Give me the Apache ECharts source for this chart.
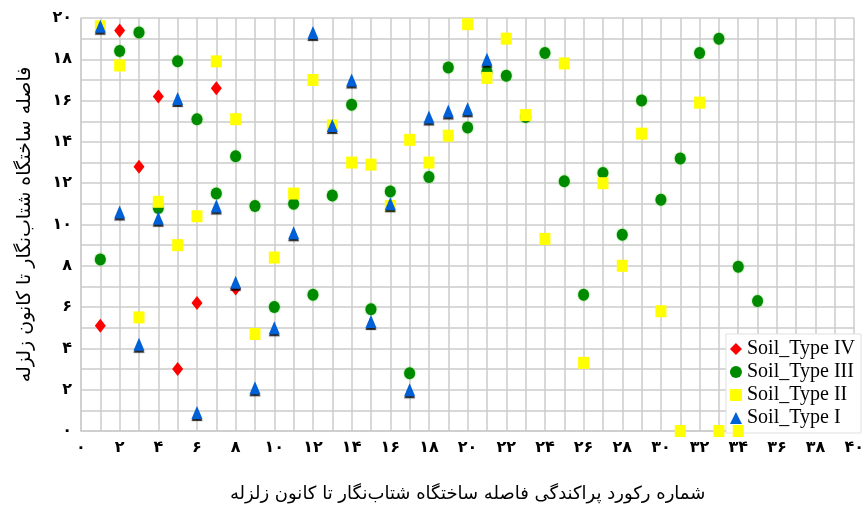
<!DOCTYPE html>
<html>
<head>
<meta charset="utf-8">
<script src="https://cdn.jsdelivr.net/npm/echarts@6/dist/echarts.min.js"></script>
<style>
html,body{margin:0;padding:0;background:#fff;}
#c{width:867px;height:508px;}
</style>
</head>
<body>
<div id="c"></div>
<script>
// ---- data ----
var seriesNames = ['Soil_Type IV', 'Soil_Type III', 'Soil_Type II', 'Soil_Type I'];
var typeIV = [[1,5.1],[2,19.4],[3,12.8],[4,16.2],[5,3.0],[6,6.2],[7,16.6],[8,6.9]];
var typeIII = [[1,8.3],[2,18.4],[3,19.3],[4,10.8],[5,17.9],[6,15.1],[7,11.5],[8,13.3],[9,10.9],[10,6.0],
  [11,11.0],[12,6.6],[13,11.4],[14,15.8],[15,5.9],[16,11.6],[17,2.8],[18,12.3],[19,17.6],[20,14.7],
  [21,17.4],[22,17.2],[23,15.2],[24,18.3],[25,12.1],[26,6.6],[27,12.5],[28,9.5],[29,16.0],[30,11.2],
  [31,13.2],[32,18.3],[33,19.0],[34,7.95],[35,6.3]];
var typeII = [[1,19.6],[2,17.7],[3,5.5],[4,11.1],[5,9.0],[6,10.4],[7,17.9],[8,15.1],[9,4.7],[10,8.4],
  [11,11.5],[12,17.0],[13,14.8],[14,13.0],[15,12.9],[16,10.9],[17,14.1],[18,13.0],[19,14.3],[20,19.7],
  [21,17.1],[22,19.0],[23,15.3],[24,9.3],[25,17.8],[26,3.3],[27,12.0],[28,8.0],[29,14.4],[30,5.8],
  [31,0],[32,15.9],[33,0],[34,0]];
var typeI = [[1,19.6],[2,10.6],[3,4.2],[4,10.3],[5,16.1],[6,0.9],[7,10.9],[8,7.2],[9,2.1],[10,5.0],
  [11,9.6],[12,19.3],[13,14.8],[14,17.0],[15,5.3],[16,11.0],[17,2.0],[18,15.2],[19,15.5],[20,15.6],[21,18.0]];
var xTitle = 'شماره رکورد پراکندگی فاصله ساختگاه شتاب‌نگار تا کانون زلزله';
var yTitle = 'فاصله ساختگاه شتاب‌نگار تا کانون زلزله';

function fa(v){
  var d = '۰۱۲۳۴۵۶۷۸۹';
  return String(v).replace(/[0-9]/g, function(c){ return d[+c]; });
}

var gridColor = '#cccccc';
var labelFont = {color:'#000', fontSize:16, fontWeight:'bold', fontFamily:'DejaVu Sans'};

var chart = echarts.init(document.getElementById('c'), null, {renderer:'canvas'});
chart.setOption({
  animation:false,
  backgroundColor:'#fff',
  grid:{left:81, right:7, top:18, bottom:77, containLabel:false},
  xAxis:{
    type:'value', min:0, max:40, interval:2,
    axisLine:{show:true, lineStyle:{color:gridColor, width:1.5}},
    axisTick:{show:false},
    axisLabel:Object.assign({formatter:fa, margin:9}, labelFont),
    splitLine:{show:true, lineStyle:{color:gridColor, width:1.5}},
    minorTick:{show:false, splitNumber:2},
    minorSplitLine:{show:true, lineStyle:{color:gridColor, width:1.5}},
    name:xTitle, nameLocation:'middle', nameGap:54,
    nameTextStyle:{color:'#000', fontSize:18, fontFamily:'DejaVu Sans'}
  },
  yAxis:{
    type:'value', min:0, max:20, interval:2,
    axisLine:{show:true, lineStyle:{color:gridColor, width:1.5}},
    axisTick:{show:false},
    axisLabel:Object.assign({formatter:fa, margin:9}, labelFont),
    splitLine:{show:true, lineStyle:{color:gridColor, width:1.5}},
    minorTick:{show:false, splitNumber:2},
    minorSplitLine:{show:true, lineStyle:{color:gridColor, width:1.5}},
    name:yTitle, nameLocation:'middle', nameGap:46, nameRotate:90,
    nameTextStyle:{color:'#000', fontSize:19, fontFamily:'DejaVu Sans'}
  },
  legend:{
    orient:'vertical', right:6, bottom:75, z:1,
    backgroundColor:'#fff', borderColor:'#e0e0e0', borderWidth:1,
    padding:[5,6,5,4], itemGap:3, itemWidth:12, itemHeight:12,
    textStyle:{color:'#000', fontSize:20, fontFamily:'Liberation Serif'},
    data:[
      {name:seriesNames[0], icon:'diamond'},
      {name:seriesNames[1], icon:'circle'},
      {name:seriesNames[2], icon:'rect'},
      {name:seriesNames[3], icon:'triangle'}
    ]
  },
  series:[
    {name:seriesNames[0], type:'scatter', z:3, data:typeIV, symbol:'diamond', symbolSize:[11,14],
      itemStyle:{color:'#ff0000', opacity:1}},
    {name:seriesNames[1], type:'scatter', z:3, data:typeIII, symbol:'circle', symbolSize:[11,12],
      itemStyle:{color:'#008a00', opacity:1, shadowColor:'rgba(80,200,40,0.8)', shadowBlur:2}},
    {name:seriesNames[2], type:'scatter', z:3, data:typeII, symbol:'rect', symbolSize:[11,12],
      itemStyle:{color:'#ffff00', opacity:1}},
    {name:seriesNames[3], type:'scatter', z:3, data:typeI, symbol:'triangle', symbolSize:[11,13],
      itemStyle:{color:'#0060d8', opacity:1, shadowColor:'rgba(0,0,0,0.85)', shadowOffsetY:2, shadowBlur:1}}
  ]
});
</script>
</body>
</html>
